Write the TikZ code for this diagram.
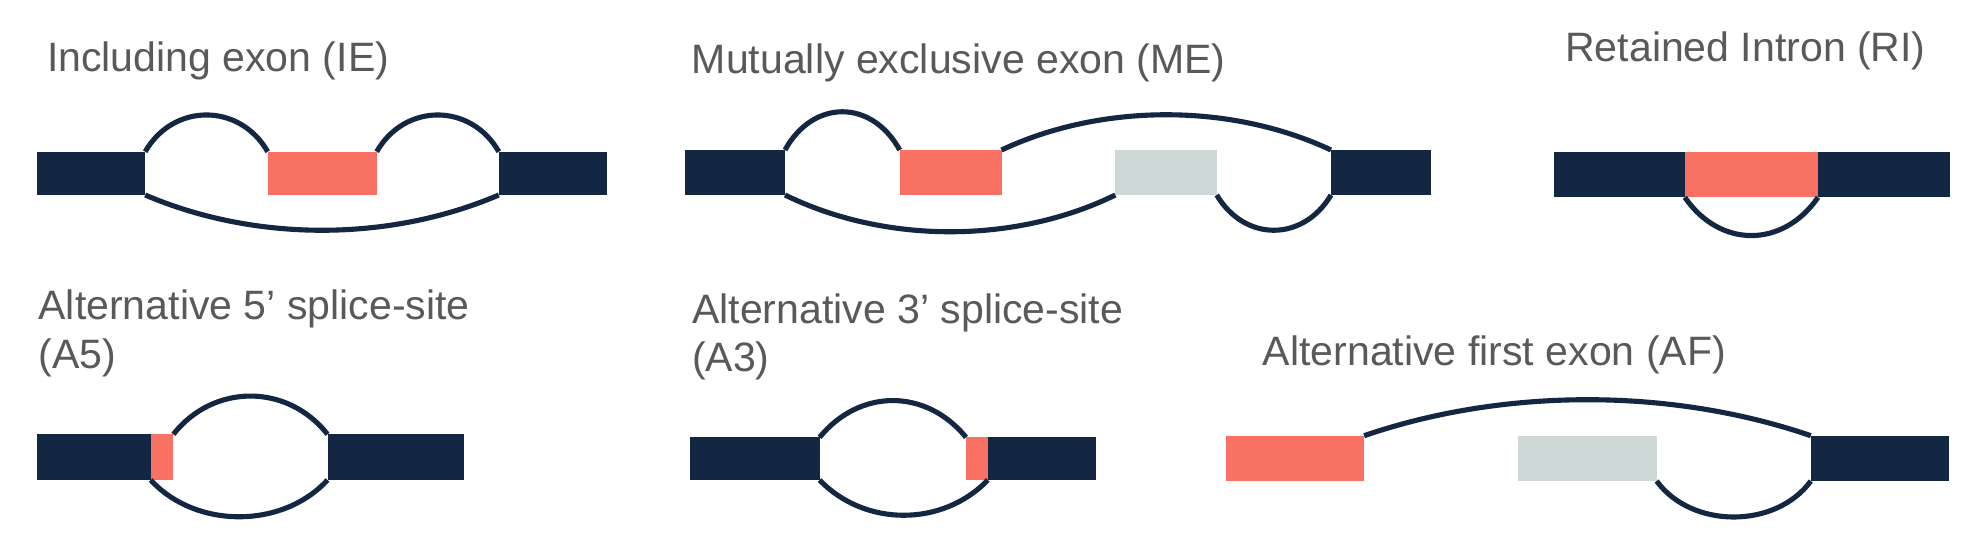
\documentclass[tikz,border=0pt]{standalone}
\usepackage{fontspec}
\setmainfont{Liberation Sans}
\definecolor{navy}{HTML}{132642}
\definecolor{salmon}{HTML}{F87162}
\definecolor{paleg}{HTML}{CED8D7}
\definecolor{labelgray}{HTML}{595959}
\newcommand{\exonbox}[6]{%
  \pgfmathsetmacro{\exw}{(#4-#2)*0.01}%
  \pgfmathsetmacro{\exh}{(#5-#3)*0.01}%
  \node[exon, fill=#6, minimum width=\exw cm, minimum height=\exh cm] (#1) at ({(#2+#4)/2},{(#3+#5)/2}) {};%
}
\begin{document}
\begin{tikzpicture}[x=0.01cm, y=-0.01cm,
  exon/.style={draw=none, inner sep=0pt, outer sep=0pt, rectangle},
  junc/.style={draw=navy, line width=1.45pt},
  lbl/.style={anchor=base west, inner sep=0pt, text=labelgray, font=\fontsize{11.67pt}{13.8pt}\selectfont, align=left}]
\fill[white] (0,0) rectangle (1980,536);
\useasboundingbox (0,0) rectangle (1980,536);

% ---------- Including exon (IE)
\node[lbl] (tIE) at (46.3,71.7) {Including exon (IE)};
\exonbox{ieA}{37}{151.7}{145.2}{195}{navy}
\exonbox{ieB}{267.7}{151.7}{376.7}{195}{salmon}
\exonbox{ieC}{498.8}{151.7}{607}{195}{navy}
\draw[junc] (ieA.north east) .. controls +(28,-49) and +(-28,-49) .. (ieB.north west);
\draw[junc] (ieB.north east) .. controls +(28,-49) and +(-28,-49) .. (ieC.north west);
\draw[junc] (ieA.south east) .. controls +(110,47) and +(-110,47) .. (ieC.south west);

% ---------- Mutually exclusive exon (ME)
\node[lbl] (tME) at (691.2,73.3) {Mutually exclusive exon (ME)};
\exonbox{meA}{684.6}{150}{785}{195}{navy}
\exonbox{meB}{899.7}{150}{1001.5}{195}{salmon}
\exonbox{meC}{1115.3}{150}{1216.7}{195}{paleg}
\exonbox{meD}{1331}{150}{1431.4}{195}{navy}
\draw[junc] (meA.north east) .. controls +(28,-51) and +(-28,-51) .. (meB.north west);
\draw[junc] (meB.north east) .. controls +(100,-47) and +(-100,-47) .. (meD.north west);
\draw[junc] (meA.south east) .. controls +(100,49) and +(-100,49) .. (meC.south west);
\draw[junc] (meC.south east) .. controls +(28,47) and +(-28,47) .. (meD.south west);

% ---------- Retained Intron (RI)
\node[lbl] (tRI) at (1564.6,61) {Retained Intron (RI)};
\exonbox{riA}{1553.5}{151.7}{1684.8}{197.3}{navy}
\exonbox{riC}{1818}{151.7}{1950}{197.3}{navy}
\exonbox{riB}{1684.8}{151.7}{1818}{197.3}{salmon}
\draw[junc] (riB.south west) .. controls +(35,51) and +(-35,51) .. (riB.south east);

% ---------- Alternative 5' splice-site (A5)
\node[lbl] (tA5) at (37.9,368.3) {Alternative 5’ splice-site\\(A5)};
\exonbox{aA}{37}{434.3}{150.7}{480}{navy}
\exonbox{aB}{150.7}{434.3}{173.4}{480}{salmon}
\exonbox{aC}{327.5}{434.3}{464.3}{480}{navy}
\draw[junc] (aB.north east) .. controls +(40,-51) and +(-40,-51) .. (aC.north west);
\draw[junc] (aA.south east) .. controls +(45,49) and +(-45,49) .. (aC.south west);

% ---------- Alternative 3' splice-site (A3)
\node[lbl] (tA3) at (691.4,371.7) {Alternative 3’ splice-site\\(A3)};
\exonbox{bA}{690.4}{437.3}{819.6}{480}{navy}
\exonbox{bB}{966}{437.3}{987.8}{480}{salmon}
\exonbox{bC}{987.8}{437.3}{1096.4}{480}{navy}
\draw[junc] (bA.north east) .. controls +(40,-49) and +(-40,-49) .. (bB.north west);
\draw[junc] (bA.south east) .. controls +(45,47) and +(-45,47) .. (bC.south west);

% ---------- Alternative first exon (AF)
\node[lbl] (tAF) at (1262.2,365) {Alternative first exon (AF)};
\exonbox{fA}{1225.9}{435.7}{1364.1}{481}{salmon}
\exonbox{fB}{1518.3}{435.7}{1656.6}{481}{paleg}
\exonbox{fC}{1810.8}{435.7}{1948.6}{481}{navy}
\draw[junc] (fA.north east) .. controls +(140,-48) and +(-140,-48) .. (fC.north west);
\draw[junc] (fB.south east) .. controls +(35,48) and +(-35,48) .. (fC.south west);
\end{tikzpicture}
\end{document}
